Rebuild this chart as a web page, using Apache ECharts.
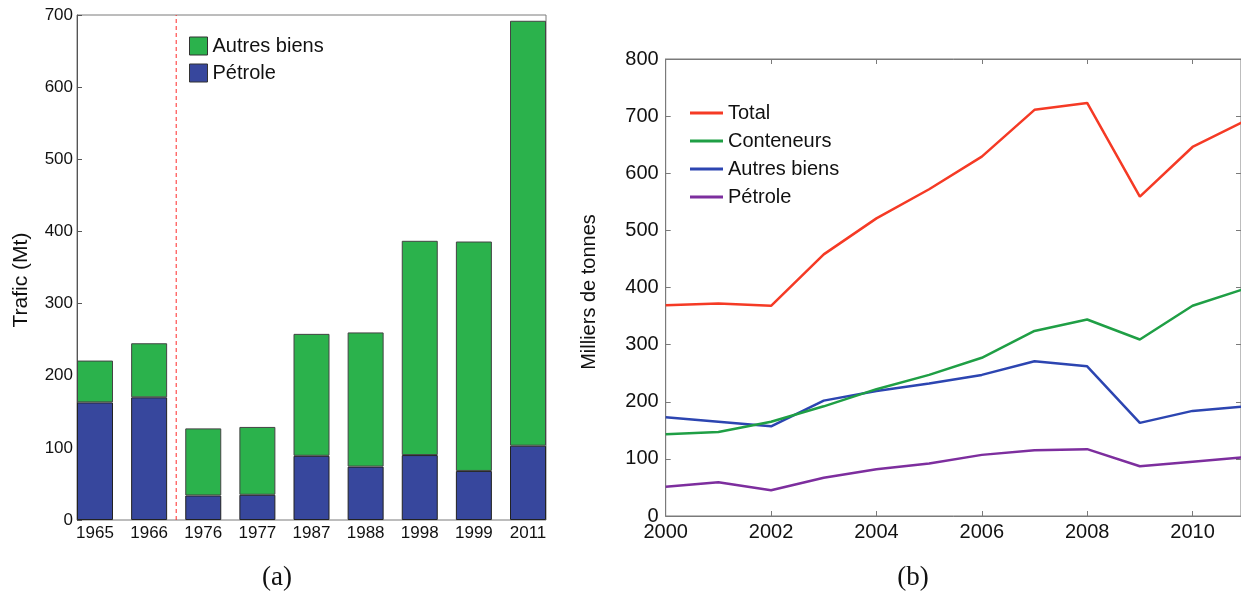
<!DOCTYPE html>
<html>
<head>
<meta charset="utf-8">
<script src="https://cdn.jsdelivr.net/npm/echarts@6/dist/echarts.min.js"></script>
<style>
  html, body { margin: 0; padding: 0; background: #fff; }
  #chart { width: 1241px; height: 596px; }
</style>
</head>
<body>
<div id="chart"></div>
<script>
// ---------- Data: panel (a) ----------
const barCategories = ['1965', '1966', '1976', '1977', '1987', '1988', '1998', '1999', '2011'];
const petroleMt = [163, 170, 34, 35, 89, 74, 90, 68, 103];
const autresBiensMt = [58, 75, 93, 94, 169, 186, 297, 318, 589];
const separatorAfterIndex = 1; // dashed line between 1966 and 1976
const leftTicks = { min: 0, max: 700, interval: 100 };

// ---------- Data: panel (b) ----------
const years = [2000, 2001, 2002, 2003, 2004, 2005, 2006, 2007, 2008, 2009, 2010, 2011];
const total = [369, 372, 368, 458, 521, 572, 629, 711, 723, 559, 646, 692];
const conteneurs = [143, 147, 165, 192, 222, 247, 277, 324, 344, 309, 368, 398];
const autresBiens = [173, 165, 157, 202, 219, 232, 247, 271, 262, 163, 184, 192];
const petrole = [51, 59, 45, 67, 82, 92, 107, 115, 117, 87, 95, 103];
const rightTicks = { min: 0, max: 800, interval: 100 };
const yearTicks = { min: 2000, max: 2010.92, interval: 2 };

const pairs = (xs, ys) => xs.map((x, i) => [x, ys[i]]);

const FONT = 'Liberation Sans';
const FRAME = '#7a7a7a';
const C = {
  barGreen: '#2bb24c', barBlue: '#37479d',
  total: '#f53a25', cont: '#1f9f45', autres: '#2c45b1', petrole: '#7d2e9e'
};

// geometry of panel (a)
const aLeft = 77, aRight = 546, aTop = 15, aBottom = 520;
const barW = 36;
const n = barCategories.length;
const band = (aRight - aLeft - barW) / (n - 1);      // spacing between bar centres
const gap = (band - barW) / 2;                        // half the empty space per band
const bandMin = -0.5 + gap / band, bandMax = (n - 0.5) - gap / band;

const chart = echarts.init(document.getElementById('chart'), null, { renderer: 'canvas' });

const option = {
  animation: false,
  backgroundColor: '#fff',
  textStyle: { fontFamily: FONT },
  grid: [
    { left: aLeft - gap, top: aTop, width: (aRight - aLeft) + 2 * gap, height: aBottom - aTop },
    { left: aLeft, top: aTop, width: aRight - aLeft, height: aBottom - aTop,
      show: true, borderColor: FRAME, borderWidth: 1, backgroundColor: 'transparent' },
    { left: 665.7, top: 59, width: 576.3, height: 457,
      show: true, borderColor: FRAME, borderWidth: 1, backgroundColor: 'transparent' }
  ],
  xAxis: [
    { gridIndex: 0, type: 'category', data: barCategories, boundaryGap: true,
      axisLine: { show: false }, axisTick: { show: false },
      axisLabel: { fontSize: 17, color: '#111', margin: 5, fontFamily: FONT } },
    { gridIndex: 1, type: 'value', min: bandMin, max: bandMax, show: false },
    { gridIndex: 2, type: 'value', min: yearTicks.min, max: yearTicks.max, interval: yearTicks.interval,
      axisLine: { show: true, onZero: false, lineStyle: { color: FRAME } },
      axisTick: { show: true, inside: true, length: 5, lineStyle: { color: FRAME } },
      axisLabel: { fontSize: 20, color: '#111', margin: 6, fontFamily: FONT, showMaxLabel: false,
        formatter: v => (Math.abs(v - Math.round(v)) < 1e-6 && Math.round(v) % 2 === 0) ? String(Math.round(v)) : '' },
      splitLine: { show: false } },
    { gridIndex: 2, type: 'value', position: 'top', min: yearTicks.min, max: yearTicks.max, interval: yearTicks.interval,
      axisLine: { show: true, onZero: false, lineStyle: { color: FRAME } },
      axisTick: { show: true, inside: true, length: 5, lineStyle: { color: FRAME } },
      axisLabel: { show: false }, splitLine: { show: false } }
  ],
  yAxis: [
    { gridIndex: 0, type: 'value', min: leftTicks.min, max: leftTicks.max, show: false },
    { gridIndex: 1, type: 'value', min: leftTicks.min, max: leftTicks.max, interval: leftTicks.interval,
      axisLine: { show: true, onZero: false, lineStyle: { color: '#555' } },
      axisTick: { show: true, inside: true, length: 5, lineStyle: { color: '#555' } },
      axisLabel: { fontSize: 17, color: '#111', margin: 4, fontFamily: FONT },
      splitLine: { show: false } },
    { gridIndex: 2, type: 'value', min: rightTicks.min, max: rightTicks.max, interval: rightTicks.interval,
      axisLine: { show: true, onZero: false, lineStyle: { color: FRAME } },
      axisTick: { show: true, inside: true, length: 5, lineStyle: { color: FRAME } },
      axisLabel: { fontSize: 20, color: '#111', margin: 7, fontFamily: FONT },
      splitLine: { show: false } },
    { gridIndex: 2, type: 'value', position: 'right', min: rightTicks.min, max: rightTicks.max, interval: rightTicks.interval,
      axisLine: { show: true, onZero: false, lineStyle: { color: FRAME } },
      axisTick: { show: true, inside: true, length: 5, lineStyle: { color: FRAME } },
      axisLabel: { show: false }, splitLine: { show: false } }
  ],
  legend: [
    { left: 184, top: 31, orient: 'vertical', itemWidth: 18, itemHeight: 18, itemGap: 7,
      icon: 'rect', selectedMode: false,
      textStyle: { fontSize: 20, color: '#111', fontFamily: FONT, lineHeight: 20 },
      data: [
        { name: 'Autres biens', itemStyle: { color: C.barGreen, borderColor: '#333', borderWidth: 1 } },
        { name: 'Pétrole', itemStyle: { color: C.barBlue, borderColor: '#333', borderWidth: 1 } }
      ] },
    { left: 685, top: 98, orient: 'vertical', itemWidth: 33, itemHeight: 3, itemGap: 8,
      icon: 'rect', selectedMode: false,
      textStyle: { fontSize: 20, color: '#111', fontFamily: FONT, lineHeight: 20 },
      data: [
        { name: 'Total', itemStyle: { color: C.total, borderWidth: 0 } },
        { name: 'Conteneurs', itemStyle: { color: C.cont, borderWidth: 0 } },
        { name: 'Autres biens', itemStyle: { color: C.autres, borderWidth: 0 } },
        { name: 'Pétrole', itemStyle: { color: C.petrole, borderWidth: 0 } }
      ] }
  ],
  graphic: [
    { type: 'text', x: 21, y: 280, rotation: Math.PI / 2,
      style: { text: 'Trafic (Mt)', font: '21px "Liberation Sans"', fill: '#111', align: 'center', verticalAlign: 'middle' } },
    { type: 'text', x: 589, y: 292, rotation: Math.PI / 2,
      style: { text: 'Milliers de tonnes', font: '20px "Liberation Sans"', fill: '#111', align: 'center', verticalAlign: 'middle' } },
    { type: 'text', x: 277, y: 578,
      style: { text: '(a)', font: '27px "Liberation Serif"', fill: '#111', align: 'center', verticalAlign: 'middle' } },
    { type: 'text', x: 913, y: 578,
      style: { text: '(b)', font: '27px "Liberation Serif"', fill: '#111', align: 'center', verticalAlign: 'middle' } }
  ],
  series: [
    { name: 'Pétrole', type: 'bar', xAxisIndex: 0, yAxisIndex: 0, stack: 'a', barWidth: barW,
      data: petroleMt, itemStyle: { color: C.barBlue, borderColor: '#222', borderWidth: 1 } },
    { name: 'Autres biens', type: 'bar', xAxisIndex: 0, yAxisIndex: 0, stack: 'a', barWidth: barW,
      data: autresBiensMt, itemStyle: { color: C.barGreen, borderColor: '#444', borderWidth: 1 } },
    { type: 'line', xAxisIndex: 1, yAxisIndex: 1, symbol: 'none', silent: true,
      data: [[separatorAfterIndex + 0.5, leftTicks.min], [separatorAfterIndex + 0.5, leftTicks.max]],
      lineStyle: { color: '#ff2a2a', width: 1, type: [4, 3] }, z: 5 },
    { name: 'Pétrole', type: 'line', xAxisIndex: 2, yAxisIndex: 2, symbol: 'none',
      data: pairs(years, petrole), lineStyle: { color: C.petrole, width: 2.5 }, itemStyle: { color: C.petrole } },
    { name: 'Autres biens', type: 'line', xAxisIndex: 2, yAxisIndex: 2, symbol: 'none',
      data: pairs(years, autresBiens), lineStyle: { color: C.autres, width: 2.5 }, itemStyle: { color: C.autres } },
    { name: 'Conteneurs', type: 'line', xAxisIndex: 2, yAxisIndex: 2, symbol: 'none',
      data: pairs(years, conteneurs), lineStyle: { color: C.cont, width: 2.5 }, itemStyle: { color: C.cont } },
    { name: 'Total', type: 'line', xAxisIndex: 2, yAxisIndex: 2, symbol: 'none',
      data: pairs(years, total), lineStyle: { color: C.total, width: 2.5 }, itemStyle: { color: C.total } }
  ]
};

chart.setOption(option);
</script>
</body>
</html>
